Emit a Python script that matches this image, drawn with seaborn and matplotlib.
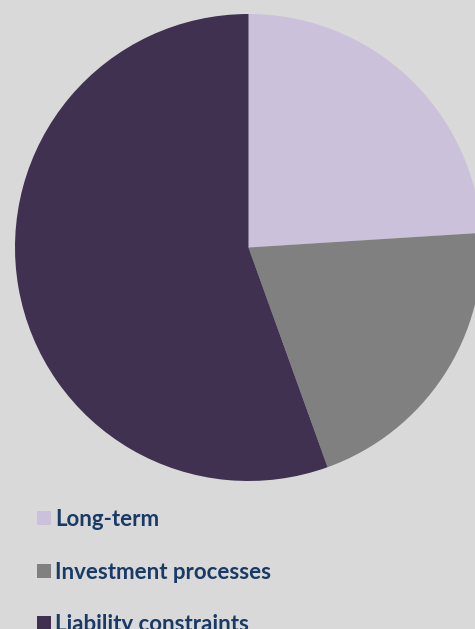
import matplotlib
matplotlib.use("Agg")
import matplotlib.pyplot as plt
import seaborn as sns

categories = ["Long-term", "Investment processes", "Liability constraints"]
values = [24.0, 20.5, 55.5]
colors = ["#CCC1DA", "#808080", "#403151"]

sns.set_theme(style="white")
plt.rcParams["font.family"] = ["Lato", "DejaVu Sans"]

W, H = 475, 629
fig = plt.figure(figsize=(W / 100, H / 100), dpi=100)
fig.patch.set_facecolor("#D9D9D9")

cx, cy, r = 248.5, 247.5, 233.5
ax = fig.add_axes([(cx - r) / W, (H - (cy + r)) / H, 2 * r / W, 2 * r / H])
ax.set_facecolor("#D9D9D9")
palette = sns.color_palette(colors)
wedges, _ = ax.pie(values, colors=palette, startangle=90, counterclock=False,
                   radius=1.0, wedgeprops=dict(linewidth=0))
ax.set_xlim(-1, 1)
ax.set_ylim(-1, 1)
ax.axis("off")

leg = fig.legend(wedges, categories, loc="upper left",
                 bbox_to_anchor=(37 / W, (H - 509) / H),
                 frameon=False, fontsize=16, handlelength=0.61, handleheight=0.61,
                 handletextpad=0.22, labelspacing=1.42, borderaxespad=0, borderpad=0)
for t in leg.get_texts():
    t.set_color("#1A3A66")
    t.set_fontweight("bold")

fig.savefig("out.png", dpi=100, facecolor=fig.get_facecolor())
